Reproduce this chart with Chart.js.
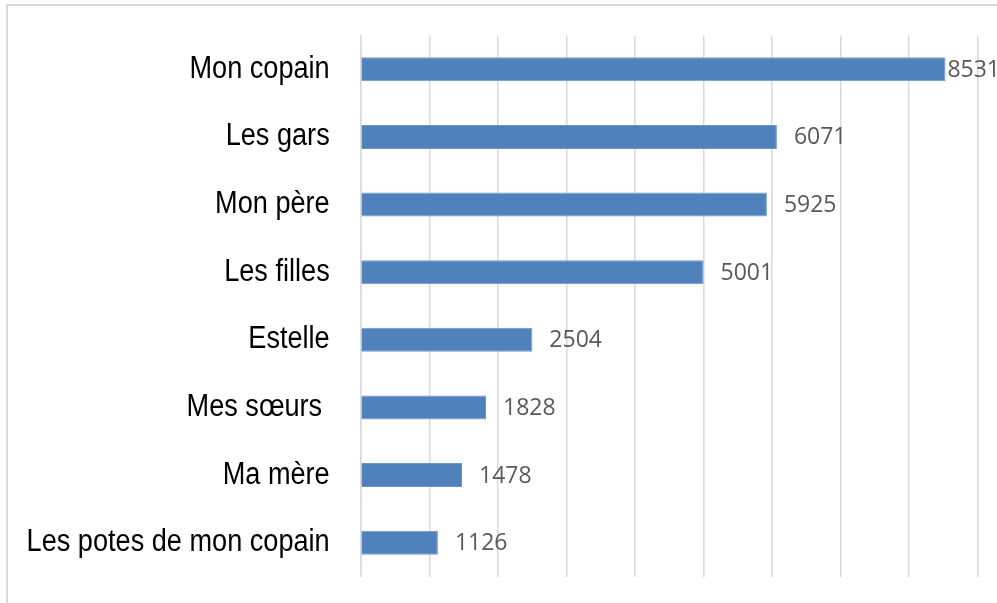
<!DOCTYPE html>
<html>
<head>
<meta charset="utf-8">
<script src="https://cdn.jsdelivr.net/npm/chart.js@4/dist/chart.umd.min.js"></script>
<style>
html,body{margin:0;padding:0;background:#fff;overflow:hidden;}
#wrap{position:relative;width:997px;height:603px;}
</style>
</head>
<body>
<div id="wrap"><canvas id="c" width="997" height="603"></canvas></div>
<script>
const categories = ["Mon copain","Les gars","Mon père","Les filles","Estelle","Mes sœurs ","Ma mère","Les potes de mon copain"];
const values = [8531,6071,5925,5001,2504,1828,1478,1126];
const xTicksMax = 9000;
const xTickStep = 1000;

const frame = {
  id:'frame',
  beforeDraw(chart){
    const ctx = chart.ctx;
    ctx.save();
    ctx.fillStyle='#fff';
    ctx.fillRect(0,0,chart.width,chart.height);
    ctx.strokeStyle='#d9d9d9';
    ctx.lineWidth=2;
    ctx.strokeRect(7,5,1010,620);
    ctx.restore();
  }
};

// narrow category labels, positioned by the category scale
const catLabels = {
  id:'catLabels',
  afterDraw(chart){
    const ctx = chart.ctx;
    const ys = chart.scales.y;
    ctx.save();
    ctx.font = '31px "Liberation Sans", Arial, sans-serif';
    ctx.fillStyle = '#000';
    ctx.textBaseline = 'middle';
    ctx.textAlign = 'right';
    const xr = ys.right - 31;
    chart.data.labels.forEach((lab,i)=>{
      const y = ys.getPixelForTick(i);
      ctx.save();
      ctx.translate(xr, y);
      ctx.scale(0.875,1);
      ctx.fillText(lab, 0, 0);
      ctx.restore();
    });
    ctx.restore();
  }
};

const valueLabels = {
  id:'valueLabels',
  afterDatasetsDraw(chart){
    const ctx = chart.ctx;
    const meta = chart.getDatasetMeta(0);
    ctx.save();
    ctx.font = '23px "Open Sans", sans-serif';
    ctx.fillStyle = '#595959';
    ctx.textBaseline = 'middle';
    ctx.textAlign = 'left';
    meta.data.forEach((bar,i)=>{
      const txt = String(chart.data.datasets[0].data[i]);
      const w = ctx.measureText(txt).width;
      let x = bar.x + 17;
      if (x + w > 1000) x = 1000 - w;
      ctx.fillText(txt, x, bar.y + 1);
    });
    ctx.restore();
  }
};

new Chart(document.getElementById('c'), {
  type:'bar',
  data:{
    labels:categories,
    datasets:[{
      data:values,
      backgroundColor:'#4F81BD',
      borderColor:'#6f95c8',
      borderWidth:1,
      borderSkipped:'left',
      categoryPercentage:1,
      barPercentage:0.355
    }]
  },
  options:{
    indexAxis:'y',
    responsive:false,
    animation:false,
    devicePixelRatio:1,
    layout:{padding:{left:0,top:35.5,right:19.3,bottom:26.5}},
    plugins:{legend:{display:false},tooltip:{enabled:false}},
    scales:{
      x:{
        min:0,max:xTicksMax,
        ticks:{display:false,stepSize:xTickStep},
        grid:{color:'#d9d9d9',lineWidth:1.5,drawTicks:false},
        border:{display:false},
        afterFit(s){s.height=0;}
      },
      y:{
        ticks:{display:false},
        grid:{display:false,drawTicks:false},
        border:{display:true,color:'#d9d9d9',width:1.5},
        afterFit(s){s.width=360.7;}
      }
    }
  },
  plugins:[frame,catLabels,valueLabels]
});
</script>
</body>
</html>
